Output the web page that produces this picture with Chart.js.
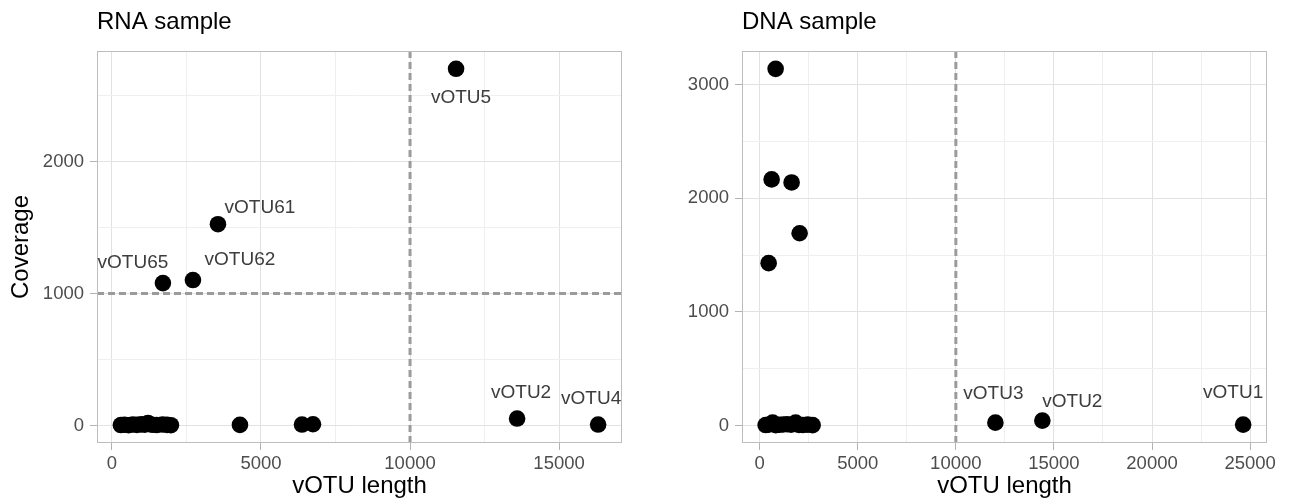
<!DOCTYPE html>
<html>
<head>
<meta charset="utf-8">
<script src="https://cdn.jsdelivr.net/npm/chart.js@4/dist/chart.umd.min.js"></script>
<style>
  body { margin: 0; background: #fff; }
  .panel { position: absolute; top: 0; width: 646px; height: 504px; }
</style>
</head>
<body>
<div class="panel" style="left:0"><canvas id="rnaChart" width="646" height="504"></canvas></div>
<div class="panel" style="left:646px"><canvas id="dnaChart" width="646" height="504"></canvas></div>
<script>
// RNA sample
const rnaLength = [300, 420, 560, 700, 840, 980, 1100, 1210, 1350, 1500, 1700, 1850, 1980, 4295, 6376, 6745, 1711, 2718, 3557, 11544, 13591, 16309];
const rnaCoverage = [4, 6, 3, 8, 5, 9, 7, 20, 6, 4, 8, 5, 3, 5, 8, 10, 1079, 1102, 1525, 2702, 53, 8];
const rnaNames = ["", "", "", "", "", "", "", "", "", "", "", "", "", "", "", "", "vOTU65", "vOTU62", "vOTU61", "vOTU5", "vOTU2", "vOTU4"];
const rnaXTicks = [0, 5000, 10000, 15000];
const rnaXMinor = [2500, 7500, 12500];
const rnaYTicks = [0, 1000, 2000];
const rnaYMinor = [500, 1500, 2500];
const rnaVLine = 10000;
const rnaHLine = 1000;

// DNA sample
const dnaLength = [305, 450, 662, 820, 1000, 1200, 1400, 1600, 1833, 2000, 2200, 2450, 2700, 458, 611, 815, 1629, 2037, 12016, 14409, 24644];
const dnaCoverage = [5, 8, 26, 4, 7, 10, 12, 8, 26, 6, 5, 9, 4, 1430, 2167, 3140, 2140, 1693, 26, 44, 9];
const dnaNames = ["", "", "", "", "", "", "", "", "", "", "", "", "", "", "", "", "", "", "vOTU3", "vOTU2", "vOTU1"];
const dnaXTicks = [0, 5000, 10000, 15000, 20000, 25000];
const dnaXMinor = [2500, 7500, 12500, 17500, 22500];
const dnaYTicks = [0, 1000, 2000, 3000];
const dnaYMinor = [500, 1500, 2500];
const dnaVLine = 10000;

// label placement (pixel offset of text centre from its point)
const rnaLabelOffset = { vOTU65: [-30, -20], vOTU62: [47, -20], vOTU61: [42, -16], vOTU5: [5, 29], vOTU2: [4, -26], vOTU4: [-7, -26] };
const dnaLabelOffset = { vOTU3: [-2, -29], vOTU2: [30, -19], vOTU1: [-10, -32] };

const FONT = "'Liberation Sans', Arial, Helvetica, sans-serif";
const MAJOR_GRID = "#e2e2e2";
const MINOR_GRID = "#efefef";

function makeChart(id, cfg) {
  const points = cfg.x.map((v, i) => ({ x: v, y: cfg.y[i], name: cfg.names[i] }));

  const panelPlugin = {
    id: "panel",
    beforeDatasetsDraw(chart) {
      const { ctx, chartArea: a, scales } = chart;
      ctx.save();
      ctx.strokeStyle = "#9b9b9b";
      ctx.lineWidth = 3;
      ctx.setLineDash([7, 4]);
      if (cfg.vLine != null) {
        const px = scales.x.getPixelForValue(cfg.vLine);
        ctx.beginPath(); ctx.moveTo(px, a.top); ctx.lineTo(px, a.bottom); ctx.stroke();
      }
      if (cfg.hLine != null) {
        const py = scales.y.getPixelForValue(cfg.hLine);
        ctx.beginPath(); ctx.moveTo(a.left, py); ctx.lineTo(a.right, py); ctx.stroke();
      }
      ctx.restore();
    },
    afterDatasetsDraw(chart) {
      const { ctx, chartArea: a } = chart;
      ctx.save();
      // panel border
      ctx.strokeStyle = "#bdbdbd";
      ctx.lineWidth = 1;
      ctx.strokeRect(a.left + 0.5, a.top + 0.5, a.right - a.left - 1, a.bottom - a.top - 1);
      // point labels
      ctx.font = "19px " + FONT;
      ctx.fillStyle = "#3d3d3d";
      ctx.textAlign = "center";
      ctx.textBaseline = "middle";
      const meta = chart.getDatasetMeta(0);
      points.forEach((p, i) => {
        if (!p.name) return;
        const el = meta.data[i];
        const off = cfg.labelOffset[p.name];
        ctx.fillText(p.name, el.x + off[0], el.y + off[1]);
      });
      // panel title
      ctx.font = "24px " + FONT;
      ctx.fillStyle = "#000";
      ctx.textAlign = "left";
      ctx.fillText(cfg.title, a.left, 22);
      ctx.restore();
    }
  };

  const gridFor = (minor) => ({
    color: (c) => (minor.includes(c.tick.value) ? MINOR_GRID : MAJOR_GRID),
    tickColor: (c) => (minor.includes(c.tick.value) ? "rgba(0,0,0,0)" : "#b3b3b3"),
    lineWidth: 1,
    tickLength: 7,
    drawTicks: true
  });

  return new Chart(document.getElementById(id).getContext("2d"), {
    type: "scatter",
    data: {
      datasets: [{
        data: points,
        pointRadius: 8.3,
        pointHoverRadius: 8.3,
        pointBackgroundColor: "#000",
        pointBorderWidth: 0,
        borderWidth: 0
      }]
    },
    plugins: [panelPlugin],
    options: {
      responsive: false,
      animation: false,
      devicePixelRatio: 1,
      events: [],
      layout: { padding: { top: 51, right: cfg.padRight, left: 0, bottom: 0 } },
      plugins: { legend: { display: false }, tooltip: { enabled: false }, title: { display: false } },
      scales: {
        x: {
          type: "linear",
          min: cfg.xRange[0],
          max: cfg.xRange[1],
          afterBuildTicks: (s) => { s.ticks = cfg.xTicks.concat(cfg.xMinor).sort((a, b) => a - b).map((v) => ({ value: v })); },
          afterFit: (s) => { s.height = 61; },
          border: { display: false },
          grid: gridFor(cfg.xMinor),
          ticks: {
            autoSkip: false,
            maxRotation: 0,
            padding: 3,
            color: "#4d4d4d",
            font: { family: FONT, size: 18.5 },
            callback: (v) => (cfg.xTicks.includes(v) ? String(v) : "")
          },
          title: { display: true, text: "vOTU length", color: "#000", font: { family: FONT, size: 24 }, padding: { top: 0, bottom: 3 } }
        },
        y: {
          type: "linear",
          min: cfg.yRange[0],
          max: cfg.yRange[1],
          afterBuildTicks: (s) => { s.ticks = cfg.yTicks.concat(cfg.yMinor).sort((a, b) => a - b).map((v) => ({ value: v })); },
          afterFit: (s) => { s.width = cfg.yWidth; },
          border: { display: false },
          grid: gridFor(cfg.yMinor),
          ticks: {
            autoSkip: false,
            padding: 6,
            color: "#4d4d4d",
            font: { family: FONT, size: 18.5 },
            callback: (v) => (cfg.yTicks.includes(v) ? String(v) : "")
          },
          title: { display: cfg.yTitle, text: "Coverage", color: "#000", font: { family: FONT, size: 24 }, padding: { top: 7, bottom: 0 } }
        }
      }
    }
  });
}

makeChart("rnaChart", {
  title: "RNA sample",
  x: rnaLength, y: rnaCoverage, names: rnaNames, labelOffset: rnaLabelOffset,
  xTicks: rnaXTicks, xMinor: rnaXMinor, yTicks: rnaYTicks, yMinor: rnaYMinor,
  xRange: [-500, 17110], yRange: [-132, 2837],
  vLine: rnaVLine, hLine: rnaHLine,
  yTitle: true, yWidth: 97, padRight: 24
});

makeChart("dnaChart", {
  title: "DNA sample",
  x: dnaLength, y: dnaCoverage, names: dnaNames, labelOffset: dnaLabelOffset,
  xTicks: dnaXTicks, xMinor: dnaXMinor, yTicks: dnaYTicks, yMinor: dnaYMinor,
  xRange: [-900, 25860], yRange: [-153, 3297],
  vLine: dnaVLine, hLine: null,
  yTitle: false, yWidth: 96, padRight: 25
});
</script>
</body>
</html>
